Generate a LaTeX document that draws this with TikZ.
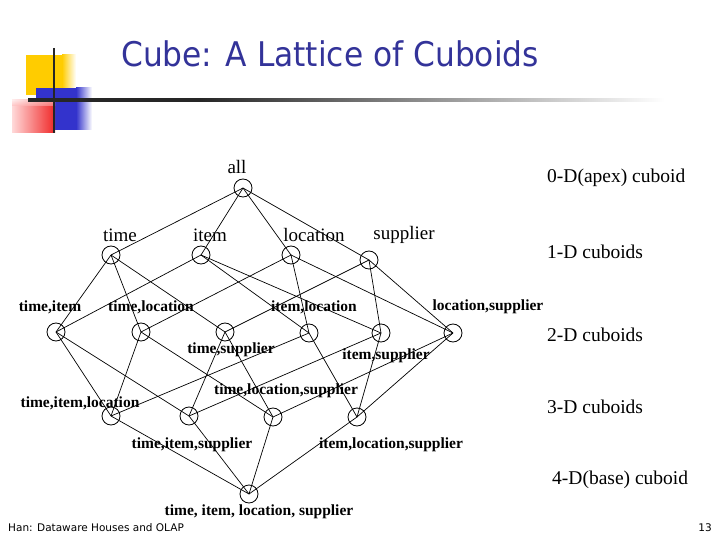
\documentclass[tikz,border=0pt]{standalone}
\usepackage{fontspec}
\setmainfont{Liberation Serif}
\newfontfamily\titlefont{DejaVu Sans}
\usetikzlibrary{calc}
\definecolor{titleblue}{RGB}{51,51,153}
\definecolor{decoyellow}{RGB}{255,204,0}
\definecolor{decoblue}{RGB}{51,51,204}
\definecolor{decored}{RGB}{240,40,40}
\begin{document}
\begin{tikzpicture}[x=1pt,y=-1pt,
  cub/.style={circle,draw,line width=0.8pt,minimum size=18pt,inner sep=0pt},
  edge/.style={line width=0.7pt},
  dimlab/.style={font=\fontsize{19}{21}\selectfont,anchor=center,inner sep=0pt},
  sublab/.style={font=\bfseries\fontsize{15.5}{17}\selectfont,anchor=center,inner sep=0pt},
  sidelab/.style={font=\fontsize{19.5}{22}\selectfont,anchor=west,inner sep=0pt}]
\useasboundingbox (0,0) rectangle (720,540);
% decoration
\fill[decoyellow] (26,55) rectangle (62,95);
\shade[left color=decoyellow,right color=white] (62,55) rectangle (76,95);
\fill[decoblue] (36,88) rectangle (76,130);
\shade[left color=decoblue,right color=white] (76,88) rectangle (92,130);
\shade[left color=red!15,right color=decored] (12,100) rectangle (55,133);
\shade[top color=white,bottom color=red!30,opacity=0.5] (12,100) rectangle (55,106);
\draw[line width=2.5pt,black!85] (54,48) -- (54,133);
\shade[left color=black!85,right color=black!85] (28,98.5) rectangle (200,101.5);
\shade[left color=black!85,right color=white] (200,98.5) rectangle (665,101.5);
% title
\node[anchor=west,inner sep=0pt,text=titleblue] (title) at (121,54)
  {\scalebox{0.92}[1]{\titlefont\fontsize{34}{38}\selectfont Cube: A Lattice of Cuboids}};
% nodes
\node[cub] (all) at (243,188) {};
\node[cub] (t) at (111,255) {};
\node[cub] (i) at (201,255) {};
\node[cub] (l) at (291,255) {};
\node[cub] (s) at (369,260) {};
\node[cub] (ti) at (56,332) {};
\node[cub] (tl) at (141,332) {};
\node[cub] (ts) at (225,332) {};
\node[cub] (il) at (309,333) {};
\node[cub] (is) at (381,333) {};
\node[cub] (ls) at (453,333) {};
\node[cub] (til) at (111,416) {};
\node[cub] (tis) at (189,416) {};
\node[cub] (tls) at (273,417) {};
\node[cub] (ils) at (357,417) {};
\node[cub] (tils) at (249,494) {};
% edges
\foreach \a/\b in {all/t,all/i,all/l,all/s,
  t/ti,t/tl,t/ts,i/ti,i/il,i/is,l/tl,l/il,l/ls,s/ts,s/is,s/ls,
  ti/til,ti/tis,tl/til,tl/tls,ts/tis,ts/tls,il/til,il/ils,is/tis,is/ils,ls/tls,ls/ils,
  til/tils,tis/tils,tls/tils,ils/tils}
  \draw[edge] (\a.center) -- (\b.center);
% labels
\node[dimlab] (lall) at (237,167) {all};
\node[dimlab] (lt) at (120,235) {time};
\node[dimlab] (li) at (210,235) {item};
\node[dimlab] (ll) at (314,235) {location};
\node[dimlab] (ls2) at (404,235) {supplier};
\node[sublab] (lti) at (50,307) {time,item};
\node[sublab] (ltl) at (151,307) {time,location};
\node[sublab] (lil) at (314,307) {item,location};
\node[sublab] (lls) at (488,307) {location,supplier};
\node[sublab] (lts) at (231,350) {time,supplier};
\node[sublab] (lis) at (386,356) {item,supplier};
\node[sublab] (ltil) at (80,403) {time,item,location};
\node[sublab] (ltls) at (286,391) {time,location,supplier};
\node[sublab] (ltis) at (192,445) {time,item,supplier};
\node[sublab] (lils) at (391,445) {item,location,supplier};
\node[sublab] (ltils) at (259,512) {time, item, location, supplier};
% side labels
\node[sidelab] (s0) at (547,178) {0-D(apex) cuboid};
\node[sidelab] (s1) at (547,252) {1-D cuboids};
\node[sidelab] (s2) at (547,335) {2-D cuboids};
\node[sidelab] (s3) at (547,407) {3-D cuboids};
\node[sidelab] (s4) at (552,480) {4-D(base) cuboid};
% footer
\node[anchor=west,inner sep=0pt] (foot) at (8,528) {\titlefont\fontsize{10.5}{12}\selectfont Han: Dataware Houses and OLAP};
\node[anchor=east,inner sep=0pt] (page) at (712,528) {\titlefont\fontsize{10.5}{12}\selectfont 13};
\end{tikzpicture}
\end{document}
